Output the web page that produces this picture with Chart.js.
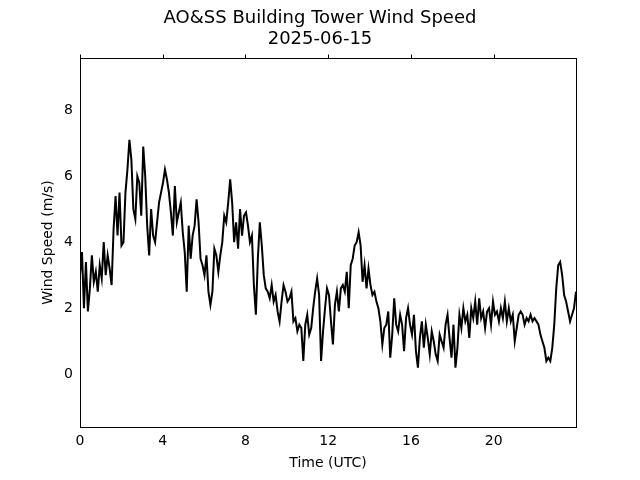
<!DOCTYPE html>
<html>
<head>
<meta charset="utf-8">
<script src="https://cdn.jsdelivr.net/npm/chart.js@4"></script>
<style>
  body { margin: 0; background: #fff; }
  #windChart { display: block; }
</style>
</head>
<body>
<canvas id="windChart" width="640" height="480"></canvas>
<script>
// wind speed (m/s), sampled evenly from 00:00 to 23:59 UTC
const windSpeed = [
    3.0, 3.7, 2.0, 3.4, 1.9, 2.6, 3.6, 2.8, 3.1, 2.5, 3.3, 2.9, 4.0, 3.0, 3.6, 3.2, 2.7, 4.4,
    5.4, 4.2, 5.5, 3.9, 4.0, 5.5, 6.2, 7.1, 6.5, 5.0, 4.7, 6.0, 5.8, 4.8, 6.9, 6.0, 4.5, 3.6,
    5.0, 4.2, 4.0, 4.6, 5.2, 5.5, 5.8, 6.2, 5.9, 5.5, 4.9, 4.2, 5.7, 4.6, 4.9, 5.2, 4.3, 3.7,
    2.5, 4.5, 3.5, 4.2, 4.5, 5.3, 4.6, 3.5, 3.3, 3.0, 3.6, 2.5, 2.1, 2.5, 3.8, 3.6, 3.1, 3.6,
    4.0, 4.8, 4.6, 5.2, 5.9, 5.2, 4.0, 4.6, 3.8, 5.0, 4.2, 4.8, 4.9, 4.5, 4.0, 4.2, 2.7, 1.8,
    3.5, 4.6, 3.9, 3.0, 2.6, 2.5, 2.3, 2.7, 2.2, 2.4, 1.9, 1.6, 2.2, 2.7, 2.5, 2.2, 2.3, 2.5,
    1.6, 1.7, 1.3, 1.5, 1.4, 0.4, 1.5, 1.8, 1.2, 1.4, 2.0, 2.5, 2.9, 2.4, 0.4, 1.3, 2.0, 2.6,
    2.4, 1.6, 0.9, 2.1, 2.5, 1.9, 2.6, 2.7, 2.5, 3.1, 2.0, 3.3, 3.5, 3.9, 4.0, 4.3, 3.9, 2.8,
    3.3, 2.6, 3.2, 2.7, 2.4, 2.5, 2.2, 2.0, 1.6, 0.9, 1.4, 1.5, 1.9, 0.5, 1.2, 2.3, 1.5, 1.3,
    1.8, 1.5, 0.7, 1.7, 2.0, 1.5, 1.2, 1.8, 0.7, 0.2, 1.1, 1.6, 0.8, 1.5, 1.1, 0.6, 1.3, 1.0,
    0.6, 0.4, 1.2, 1.0, 0.8, 1.5, 1.8, 1.1, 0.5, 1.5, 0.2, 0.8, 1.8, 1.4, 2.0, 1.6, 1.8, 1.1,
    2.0, 1.7, 2.2, 1.5, 2.3, 1.7, 1.9, 1.4, 1.9, 2.0, 1.5, 2.2, 1.8, 1.9, 1.6, 2.0, 1.7, 2.2,
    1.6, 2.0, 1.6, 1.8, 1.0, 1.4, 1.8, 1.9, 1.8, 1.5, 1.7, 1.6, 1.8, 1.6, 1.7, 1.6, 1.5, 1.2,
    1.0, 0.8, 0.4, 0.5, 0.4, 0.8, 1.5, 2.6, 3.3, 3.4, 3.0, 2.4, 2.2, 1.9, 1.6, 1.8, 2.0, 2.5
];
const lastHour = 23.98;
const hours = windSpeed.map((v, i) => i * lastHour / (windSpeed.length - 1));
const xTicks = [0, 4, 8, 12, 16, 20];
const yTicks = [0, 2, 4, 6, 8];
const titleLines = ['AO&SS Building Tower Wind Speed', '2025-06-15'];

const font = { family: 'DejaVu Sans', size: 14 };

// figure title (centred on the whole canvas), box round the plot, top tick marks
const framePlugin = {
    id: 'frame',
    afterDraw(chart) {
        const c = chart.ctx, a = chart.chartArea, xs = chart.scales.x;
        c.save();
        c.fillStyle = '#000';
        c.font = '18px "DejaVu Sans"';
        c.textAlign = 'center';
        c.textBaseline = 'middle';
        c.fillText(titleLines[0], 320, 18);
        c.fillText(titleLines[1], 320, 39);

        c.strokeStyle = '#000';
        c.lineWidth = 1;
        c.strokeRect(a.left + 0.5, a.top + 0.5, a.right - a.left, a.bottom - a.top);
        xTicks.forEach(t => {
            const px = Math.round(xs.getPixelForValue(t)) + 0.5;
            c.beginPath();
            c.moveTo(px, a.top);
            c.lineTo(px, a.top - 3.5);
            c.stroke();
        });
        c.restore();
    }
};

var ctx = document.getElementById('windChart').getContext('2d');
var windChart = new Chart(ctx, {
    type: 'line',
    data: {
        datasets: [{
            data: windSpeed.map((v, i) => ({ x: hours[i], y: v })),
            borderColor: '#000',
            borderWidth: 2,
            pointRadius: 0,
            tension: 0
        }]
    },
    options: {
        responsive: false,
        animation: false,
        layout: { padding: { left: 40, right: 64, top: 58, bottom: 8 } },
        plugins: {
            legend: { display: false },
            tooltip: { enabled: false },
            title: { display: false }
        },
        scales: {
            x: {
                type: 'linear',
                min: 0,
                max: lastHour,
                afterBuildTicks: s => { s.ticks = xTicks.map(v => ({ value: v })); },
                afterFit: s => { s.height = 45; },
                grid: { display: false, drawTicks: true, tickLength: 4, tickColor: '#000' },
                border: { display: false },
                ticks: { color: '#000', font: font, maxRotation: 0, padding: 2 },
                title: { display: true, text: 'Time (UTC)', color: '#000', font: font, padding: { top: 2, bottom: 0 } }
            },
            y: {
                min: -1.6,
                max: 9.58,
                afterBuildTicks: s => { s.ticks = yTicks.map(v => ({ value: v })); },
                afterFit: s => { s.width = 40; },
                grid: { display: false, drawTicks: true, tickLength: 4, tickColor: '#000' },
                border: { display: false },
                ticks: { color: '#000', font: font, padding: 3 },
                title: { display: true, text: 'Wind Speed (m/s)', color: '#000', font: font, padding: { top: 0, bottom: 0 } }
            }
        }
    },
    plugins: [framePlugin]
});
</script>
</body>
</html>
